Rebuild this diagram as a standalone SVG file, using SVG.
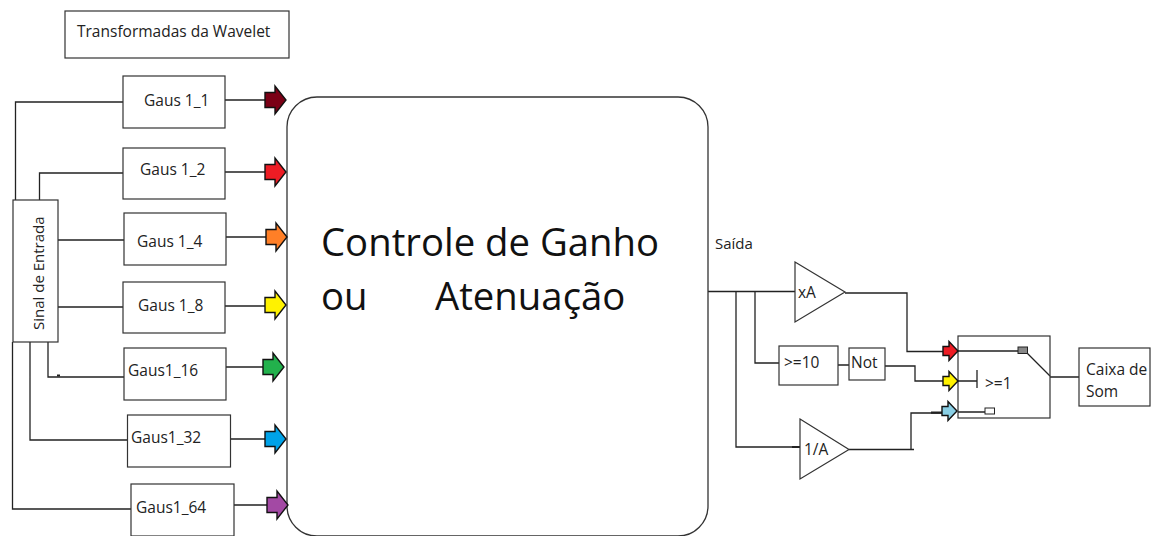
<svg xmlns="http://www.w3.org/2000/svg" width="1161" height="536" viewBox="0 0 1161 536">
<style>
.b{fill:#fff;stroke:#333;stroke-width:1.2}
.w{fill:none;stroke:#222;stroke-width:1.3}
.t{fill:none;stroke:#222;stroke-width:2.200}
.a{stroke:#111;stroke-width:1.4}
text{font-family:"Open Sans","Noto Sans",sans-serif;font-size:15.500px;fill:#222}
.s{font-size:15px}
.big{font-size:38.300px;fill:#111}
</style>
<defs>
<path id="arr" d="M0 -7.500H10V-14L21 0L10 14V7.500H0Z"/>
<path id="arrs" d="M0 -4.500H6V-9.500L15 0L6 9.500V4.500H0Z"/>
</defs>
<rect width="1161" height="536" fill="#fff"/>
<g id="connectors">
<path class="w" d="M123 102H15.500V200M123 173H39.500V200M58 240H124M58 307H123M48 342V377H124M30 342V440H127.500M12.500 342V509H131"/>
<path class="w" d="M225 100H265M225 172H265M226 237H266M225 306H265M226 367H263M230 439H265M234 505H267"/>
<path class="w" d="M708 291.500H795M736 291.500V447H800M755 291.500V363H780M838 365H849M885 366H915V381H943M845 293H907V351.500H943M849 449.500H914M911 449.500V413H942M1050 377H1079"/>
<path class="w" d="M958 351H1018M1027 353L1050 376M958 381H977M977 370V388M958 412H985"/>
<path class="t" d="M792 447H800M931 412.700H942M57 375.500H60"/>
</g>
<g id="title"><rect class="b" x="65" y="11" width="224" height="47"/><text x="77" y="37">Transformadas da Wavelet</text></g>
<g id="sinal"><rect class="b" x="13" y="200" width="45" height="142"/><text class="s" transform="translate(44 330) rotate(-90)">Sinal de Entrada</text></g>
<g id="gaus1"><rect class="b" x="123" y="76" width="102" height="52"/><text x="144" y="106">Gaus 1_1</text></g>
<g id="gaus2"><rect class="b" x="123" y="148" width="102" height="51"/><text x="140" y="175">Gaus 1_2</text></g>
<g id="gaus4"><rect class="b" x="124" y="213" width="102" height="52"/><text x="137" y="247">Gaus 1_4</text></g>
<g id="gaus8"><rect class="b" x="123" y="282" width="102" height="51"/><text x="138" y="311">Gaus 1_8</text></g>
<g id="gaus16"><rect class="b" x="124" y="348" width="102" height="52"/><text x="128" y="376">Gaus1_16</text></g>
<g id="gaus32"><rect class="b" x="127.500" y="415" width="103" height="52"/><text x="131" y="443">Gaus1_32</text></g>
<g id="gaus64"><rect class="b" x="131" y="484" width="103" height="52"/><text x="136" y="513">Gaus1_64</text></g>
<g id="controle"><rect x="287" y="97" width="421" height="439" rx="30" fill="#fff" stroke="#333" stroke-width="1.3"/>
<text class="big" x="321" y="256">Controle de Ganho</text><text class="big" x="321" y="310">ou</text><text class="big" x="435" y="310">Atenuação</text></g>
<g id="arrows">
<use href="#arr" class="a" x="265" y="100" fill="#7b0016"/>
<use href="#arr" class="a" x="265" y="172" fill="#ed1c24"/>
<use href="#arr" class="a" x="266" y="237" fill="#ff7f27"/>
<use href="#arr" class="a" x="265" y="305" fill="#fff200"/>
<use href="#arr" class="a" x="263" y="367" fill="#22b14c"/>
<use href="#arr" class="a" x="265" y="439" fill="#00a2e8"/>
<use href="#arr" class="a" x="267" y="505" fill="#a349a4"/>
</g>
<g id="saida"><text class="s" x="715" y="249">Saída</text></g>
<g id="xA"><path class="b" d="M795 262L845 292L795 322Z"/><text x="798" y="298">xA</text></g>
<g id="ge10"><rect class="b" x="779" y="346" width="59" height="39"/><text x="784" y="368">&gt;=10</text></g>
<g id="not"><rect class="b" x="849" y="348" width="36" height="32"/><text x="851" y="368">Not</text></g>
<g id="umA"><path class="b" d="M800 419L849 449.500L800 479Z"/><text x="804" y="455">1/A</text></g>
<g id="switch"><rect x="958" y="336" width="92" height="82" fill="none" stroke="#333" stroke-width="1.2"/>
<rect x="1018" y="347" width="9.500" height="6.500" fill="#888" stroke="#222"/><rect x="985" y="408" width="9.500" height="6" fill="#fff" stroke="#222"/>
<text x="985" y="389">&gt;=1</text>
<use href="#arrs" class="a" x="943" y="351" fill="#ed1c24"/><use href="#arrs" class="a" x="943" y="381" fill="#fff200"/><use href="#arrs" class="a" x="942" y="411" fill="#89cfe5"/></g>
<g id="caixa"><rect class="b" x="1079" y="348" width="71" height="58"/><text x="1086" y="375">Caixa de</text><text x="1086" y="397">Som</text></g>
</svg>
